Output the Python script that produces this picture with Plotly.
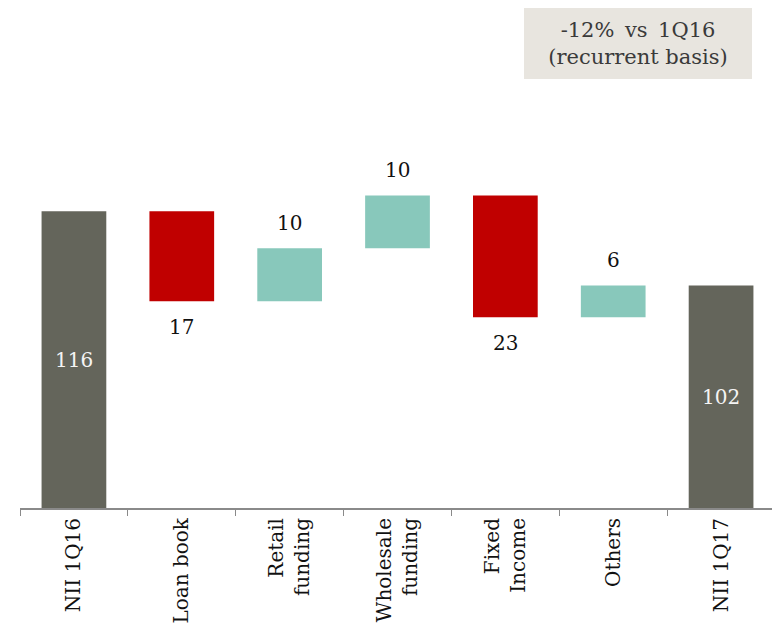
import plotly.graph_objects as go

categories = ["NII 1Q16", "Loan book", "Retail<br>funding", "Wholesale<br>funding",
              "Fixed<br>Income", "Others", "NII 1Q17"]
values = [116, -17, 10, 10, -23, 6, 102]
measures = ["absolute", "relative", "relative", "relative", "relative", "relative", "total"]
labels = ["116", "17", "10", "10", "23", "6", "102"]

GREY = "#64655B"
RED = "#C00000"
TEAL = "#88C8BB"
FONT = "DejaVu Serif"
Y_MIN, Y_MAX = 60, 137

fig = go.Figure(go.Waterfall(
    x=categories,
    y=values,
    measure=measures,
    increasing=dict(marker=dict(color=TEAL)),
    decreasing=dict(marker=dict(color=RED)),
    totals=dict(marker=dict(color=GREY)),
    connector=dict(visible=False),
    hoverinfo="skip",
))

# value labels positioned from the data
annotations = []
running = 0
for cat, val, meas, lab in zip(categories, values, measures, labels):
    if meas == "absolute":
        running = val
        annotations.append(dict(x=cat, y=(Y_MIN + val) / 2, text=lab, showarrow=False,
                                font=dict(color="#F4F4F4", size=20, family=FONT)))
    elif meas == "total":
        annotations.append(dict(x=cat, y=(Y_MIN + running) / 2, text=lab, showarrow=False,
                                font=dict(color="#F4F4F4", size=20, family=FONT)))
    else:
        running = running + val
        if val >= 0:
            annotations.append(dict(x=cat, y=running, yshift=25, text=lab, showarrow=False,
                                    font=dict(color="#111111", size=20, family=FONT)))
        else:
            annotations.append(dict(x=cat, y=running, yshift=-26, text=lab, showarrow=False,
                                    font=dict(color="#111111", size=20, family=FONT)))

annotations.append(dict(
    xref="paper", yref="paper", x=0.9695, y=1.2255, xanchor="right", yanchor="top",
    text="-12%\u2002vs\u20021Q16<br>(recurrent basis)", showarrow=False,
    bgcolor="#E8E5DF", borderpad=0, borderwidth=0, width=228, height=71,
    font=dict(family=FONT, size=21, color="#3A3A3A"),
))

fig.update_layout(
    width=780, height=633,
    margin=dict(l=12, r=13, t=92, b=133),
    paper_bgcolor="white", plot_bgcolor="white",
    showlegend=False,
    waterfallgap=0.4,
    font=dict(family=FONT, size=20, color="#111111"),
    xaxis=dict(
        tickangle=-90,
        showline=True, linecolor="#8A8A8A", linewidth=2,
        ticks="outside", tickson="boundaries", ticklen=6, tickcolor="#8A8A8A",
        tickfont=dict(family=FONT, size=20, color="#111111"),
        showgrid=False,
    ),
    yaxis=dict(range=[Y_MIN, Y_MAX], visible=False, showgrid=False),
    annotations=annotations,
)

fig.write_html("out.html")
